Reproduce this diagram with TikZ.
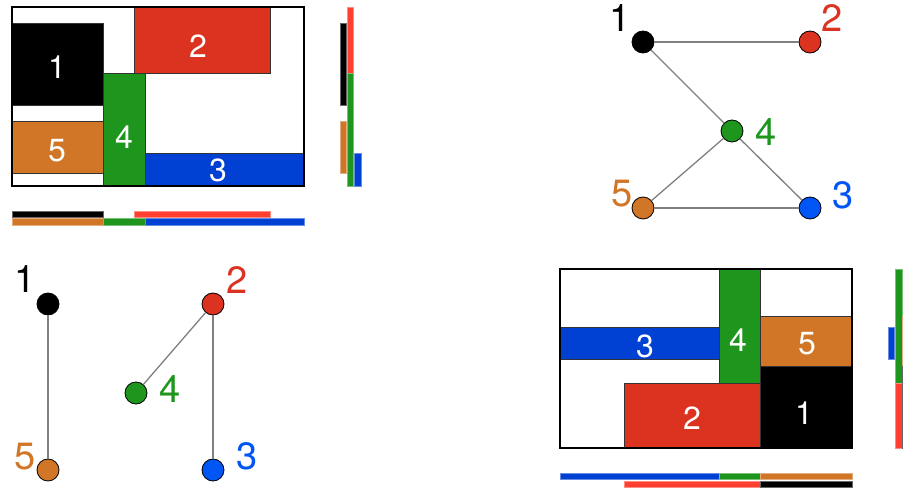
\documentclass[tikz,border=0pt]{standalone}
\usepackage{fontspec}
\setmainfont{TeX Gyre Heros}
\usetikzlibrary{positioning}
\definecolor{c1}{RGB}{0,0,0}
\definecolor{c2}{RGB}{220,50,32}
\definecolor{c3}{RGB}{0,64,210}
\definecolor{c4}{RGB}{30,150,30}
\definecolor{c5}{RGB}{208,118,38}
\definecolor{b2}{RGB}{255,64,48}
\definecolor{v3}{RGB}{0,85,245}
\definecolor{edgegray}{RGB}{128,128,128}

\begin{document}
\begin{tikzpicture}[x=1pt, y=-1pt,
    blk/.style={draw=black!80, line width=0.8pt},
    box/.style={draw=black, line width=1.5pt},
    num/.style={text=white, font=\fontsize{32}{32}\selectfont, inner sep=0pt},
    vtx/.style={circle, draw=black, line width=0.8pt, minimum size=22pt, inner sep=0pt},
    vlbl/.style={font=\fontsize{38}{38}\selectfont, inner sep=0pt},
    edge/.style={draw=edgegray, line width=1.3pt},
    bar/.style={line width=0.5pt},
]
\useasboundingbox (0,0) rectangle (903,489);
\fill[white] (0,0) rectangle (903,489);

% packing A (top left)
\filldraw[blk, fill=c1] (12,23) rectangle (103,105);
\filldraw[blk, fill=c2] (134,7) rectangle (270,73);
\filldraw[blk, fill=c4] (103,73) rectangle (145,186);
\filldraw[blk, fill=c5] (12,121) rectangle (103,173);
\filldraw[blk, fill=c3] (145,153) rectangle (304,186);
\draw[box] (12,7) rectangle (304,186);
\node[num] (t1) at (57,67) {1};
\node[num] (t2) at (198,46) {2};
\node[num] (t4) at (124,137) {4};
\node[num] (t5) at (57,151) {5};
\node[num] (t3) at (218,170) {3};

% projections of A
\foreach \c/\xa/\ya/\xb/\yb in {c1/12/211/103/217, b2/134/211/270/217,
    c5/12/218/103/225, c4/103/218/145/225, c3/145/218/304/225,
    c1/340/23/346/105, c5/340/121/346/173, b2/347/7/353/73,
    c4/347/73/353/186, c3/354/153/361/186} {
    \filldraw[bar, fill=\c, draw=\c!60] (\xa,\ya) rectangle (\xb,\yb);
}

% graph of A (top right)
\node[vtx, fill=c1] (g1) at (643,42) {};
\node[vtx, fill=c2] (g2) at (810,42) {};
\node[vtx, fill=c4] (g4) at (732,131) {};
\node[vtx, fill=c5] (g5) at (643,208) {};
\node[vtx, fill=v3] (g3) at (810,208) {};
\draw[edge] (g1) -- (g2);
\draw[edge] (g1) -- (g4);
\draw[edge] (g4) -- (g5);
\draw[edge] (g4) -- (g3);
\draw[edge] (g5) -- (g3);
\node[vlbl, text=c1] (g1l) at (620,18) {1};
\node[vlbl, text=c2] (g2l) at (832,18) {2};
\node[vlbl, text=c4] (g4l) at (766,132) {4};
\node[vlbl, text=c5] (g5l) at (622,194) {5};
\node[vlbl, text=v3] (g3l) at (843,195) {3};

% graph of B (bottom left)
\node[vtx, fill=c1] (h1) at (48,304) {};
\node[vtx, fill=c2] (h2) at (213,304) {};
\node[vtx, fill=c4] (h4) at (136,393) {};
\node[vtx, fill=c5] (h5) at (48,470) {};
\node[vtx, fill=v3] (h3) at (213,470) {};
\draw[edge] (h1) -- (h5);
\draw[edge] (h2) -- (h4);
\draw[edge] (h2) -- (h3);
\node[vlbl, text=c1] (h1l) at (25,279) {1};
\node[vlbl, text=c2] (h2l) at (237,280) {2};
\node[vlbl, text=c4] (h4l) at (170,389) {4};
\node[vlbl, text=c5] (h5l) at (25,457) {5};
\node[vlbl, text=v3] (h3l) at (247,456) {3};

% packing B (bottom right)
\filldraw[blk, fill=c3] (560,327) rectangle (719,359);
\filldraw[blk, fill=c4] (719,269) rectangle (760,383);
\filldraw[blk, fill=c5] (760,316) rectangle (852,366);
\filldraw[blk, fill=c1] (760,366) rectangle (852,448);
\filldraw[blk, fill=c2] (624,383) rectangle (760,448);
\draw[box] (560,269) rectangle (852,448);
\node[num] (u3) at (645,346) {3};
\node[num] (u4) at (738,340) {4};
\node[num] (u5) at (807,344) {5};
\node[num] (u2) at (692,418) {2};
\node[num] (u1) at (804,413) {1};

% projections of B
\begin{scope}
\clip (0,0) rectangle (903,489);
\foreach \c/\xa/\ya/\xb/\yb in {c3/560/473/719/479, c4/719/473/760/479,
    c5/760/473/852/479, b2/624/481/760/487, c1/760/481/852/487,
    c3/888/327/894/359, c4/895/269/902/383, b2/895/383/902/448,
    c5/902/316/909/366, c1/902/366/909/448} {
    \filldraw[bar, fill=\c, draw=\c!60] (\xa,\ya) rectangle (\xb,\yb);
}
\end{scope}
\end{tikzpicture}
\end{document}
